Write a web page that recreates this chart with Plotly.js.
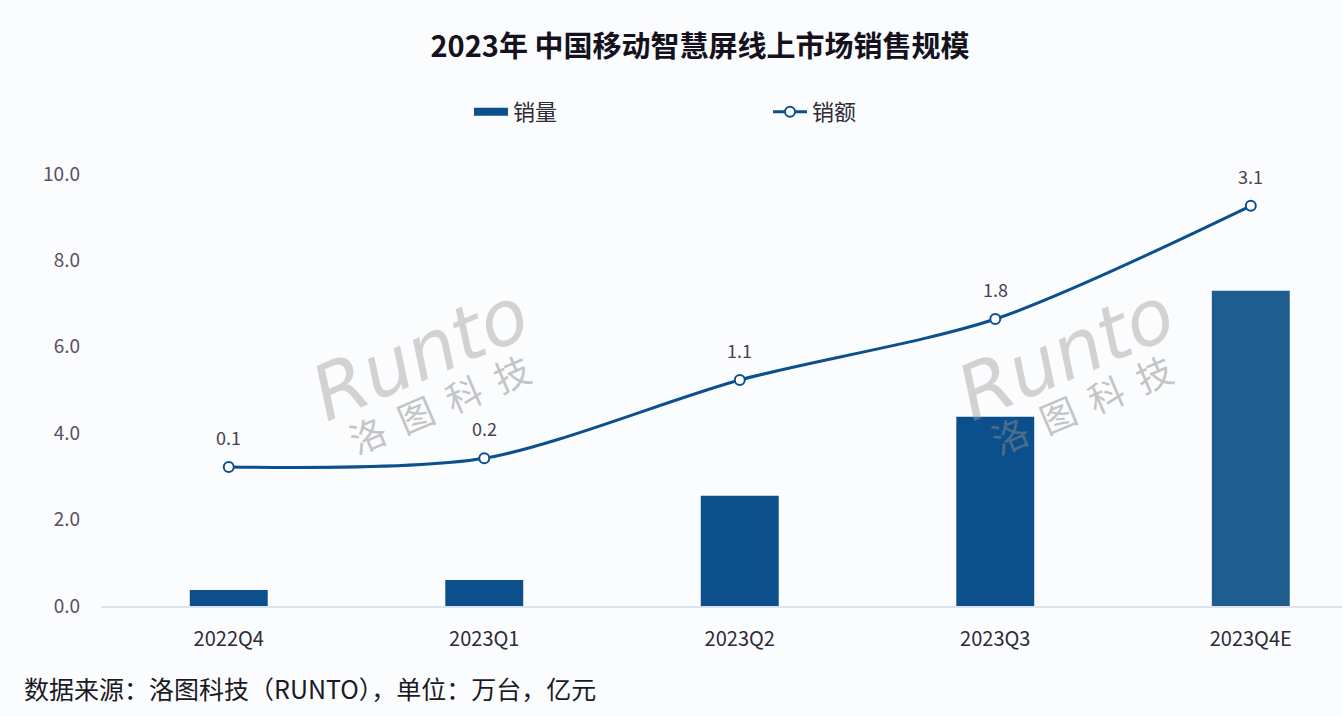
<!DOCTYPE html>
<html><head><meta charset="utf-8">
<script src="https://cdn.plot.ly/plotly-3.0.1.min.js"></script>
<style>body{margin:0;background:#fbfcfe}</style></head>
<body><div id="chart" style="width:1342px;height:716px"></div>
<script>
const categories = ['2022Q4','2023Q1','2023Q2','2023Q3','2023Q4E'];
const salesVolume = [0.37, 0.6, 2.55, 4.38, 7.3];   // 销量 (万台)
const salesValue = [0.1, 0.2, 1.1, 1.8, 3.1];       // 销额 (亿元)
const yTicks = [0, 2, 4, 6, 8, 10];
const yTickText = ['0.0','2.0','4.0','6.0','8.0','10.0'];

const barColors = ['#0b4f8c','#0b4f8c','#0b4f8c','#0b4f8c','#205d8f'];
const lineColor = '#0b4f8c';
const font = '"Noto Sans CJK SC", "Noto Sans", sans-serif';

const traces = [
  {type:'bar', x:categories, y:salesVolume, name:'销量', showlegend:false,
   marker:{color:barColors}, width:0.305, hoverinfo:'skip'},
  {type:'scatter', mode:'lines', x:[null], y:[null], name:'销量',
   line:{color:lineColor, width:8}, hoverinfo:'skip'},
  {type:'scatter', mode:'lines+markers', x:categories, y:salesValue, name:'销额', yaxis:'y2',
   line:{color:lineColor, width:3, shape:'spline', smoothing:0.8},
   marker:{symbol:'circle', size:10, color:'#ffffff', line:{color:lineColor, width:2}},
   hoverinfo:'skip'}
];

const annotations = salesValue.map((v,i)=>({
  x:categories[i], y:v, xref:'x', yref:'y2', yshift:30, showarrow:false,
  text:v.toFixed(1), font:{family:font, size:18, color:'#4a4050'}
}));

// watermarks
[[0.257,0.585,0.272,0.47],[0.777,0.585,0.79,0.47]].forEach(p=>{
  annotations.push({xref:'paper', yref:'paper', x:p[0], y:p[1], xanchor:'center', yanchor:'middle',
    showarrow:false, textangle:-23,
    text:'<i>Runto</i>', font:{family:'DejaVu Sans', size:76, color:'rgba(160,160,160,0.45)'}});
  annotations.push({xref:'paper', yref:'paper', x:p[2], y:p[3], xanchor:'center', yanchor:'middle',
    showarrow:false, textangle:-23,
    text:'洛  图  科  技', font:{family:font, size:36, color:'rgba(140,140,140,0.5)'}});
});

annotations.push({xref:'paper', yref:'paper', x:(22-101)/1241, y:(606-688)/432, xanchor:'left', yanchor:'middle',
  showarrow:false, text:'数据来源：洛图科技（RUNTO），单位：万台，亿元',
  font:{family:font, size:25, color:'#1a1a24'}});

const layout = {
  width:1342, height:716,
  paper_bgcolor:'#fbfcfe', plot_bgcolor:'#fbfcfe',
  margin:{l:101, r:0, t:174, b:110},
  title:{text:'<b>2023年 中国移动智慧屏线上市场销售规模</b>', xref:'container', x:700/1342, xanchor:'center',
         yref:'container', y:1-47/716, yanchor:'middle', font:{family:font, size:29, color:'#15121e'}},
  font:{family:font},
  showlegend:true,
  legend:{orientation:'h', xref:'container', yref:'container', x:469/1342, y:1-112/716, yanchor:'middle',
          entrywidth:250, entrywidthmode:'pixels', itemwidth:34,
          font:{family:font, size:22, color:'#2e2a36'}, bgcolor:'rgba(0,0,0,0)'},
  xaxis:{type:'category', range:[-0.5, 4.357], showgrid:false, zeroline:false,
         showline:true, linecolor:'#dde3ea', linewidth:1.5, ticks:'',
         ticklabelstandoff:14, tickfont:{family:font, size:20, color:'#2e2a36'}},
  yaxis:{range:[0,10], tickvals:yTicks, ticktext:yTickText, showgrid:false, zeroline:false,
         showline:false, ticks:'', ticklabelstandoff:20,
         tickfont:{family:font, size:19, color:'#5a5060'}},
  yaxis2:{overlaying:'y', side:'right', range:[-1.497, 3.466], visible:false, showgrid:false, zeroline:false},
  bargap:0.7,
  annotations:annotations
};

Plotly.newPlot('chart', traces, layout, {displayModeBar:false, staticPlot:true});
</script>
</body></html>
